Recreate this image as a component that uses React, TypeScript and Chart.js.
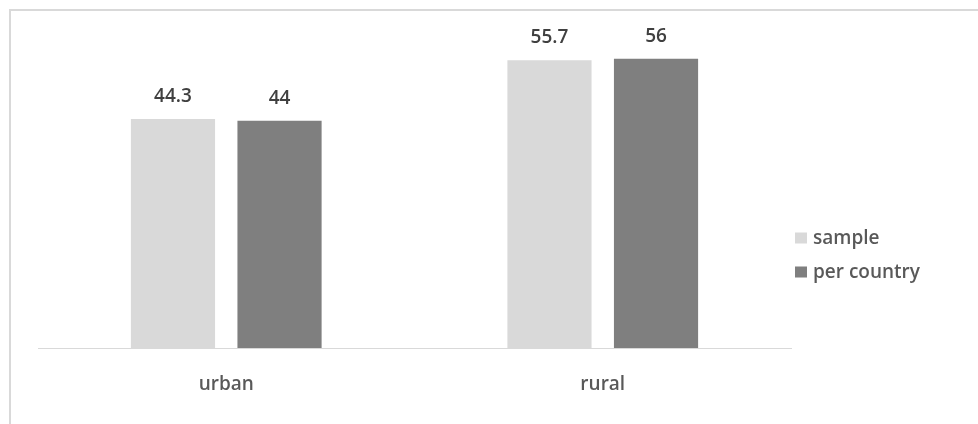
import React, { useEffect, useRef } from "react";
import { Chart, registerables } from "chart.js";

Chart.register(...registerables);

const categories = ["urban", "rural"];
const seriesNames = ["sample", "per country"];
const sampleValues = [44.3, 55.7];
const perCountryValues = [44, 56];
const seriesColors = ["#d9d9d9", "#7f7f7f"];

const FONT = "'Open Sans', 'DejaVu Sans', sans-serif";

const valueLabels = {
  id: "valueLabels",
  afterDatasetsDraw(chart: any) {
    const ctx = chart.ctx;
    ctx.save();
    ctx.font = `600 19px ${FONT}`;
    ctx.fillStyle = "#404040";
    ctx.textAlign = "center";
    ctx.textBaseline = "alphabetic";
    chart.data.datasets.forEach((ds: any, i: number) => {
      const meta = chart.getDatasetMeta(i);
      meta.data.forEach((bar: any, j: number) => {
        ctx.fillText(String(ds.data[j]), bar.x, bar.y - 17);
      });
    });
    ctx.restore();
  },
};

const sideLegend = {
  id: "sideLegend",
  afterDraw(chart: any) {
    const ctx = chart.ctx;
    ctx.save();
    ctx.font = `600 19px ${FONT}`;
    ctx.textAlign = "left";
    ctx.textBaseline = "middle";
    const x0 = chart.chartArea.right + 4;
    const yStart = 238;
    const step = 34;
    chart.data.datasets.forEach((ds: any, i: number) => {
      const y = yStart + i * step;
      ctx.fillStyle = ds.backgroundColor;
      ctx.fillRect(x0, y - 5.5, 12, 11);
      ctx.fillStyle = "#595959";
      ctx.fillText(ds.label, x0 + 18, y + 1);
    });
    ctx.restore();
  },
};

export default function App() {
  const ref = useRef<HTMLCanvasElement | null>(null);
  useEffect(() => {
    if (!ref.current) return;
    const chart = new Chart(ref.current, {
      type: "bar",
      data: {
        labels: categories,
        datasets: [
          { label: seriesNames[0], data: sampleValues, backgroundColor: seriesColors[0] },
          { label: seriesNames[1], data: perCountryValues, backgroundColor: seriesColors[1] },
        ],
      },
      options: {
        animation: false,
        responsive: false,
        maintainAspectRatio: false,
        layout: { padding: { left: 38, right: 187, top: 38, bottom: 0 } },
        plugins: { legend: { display: false }, tooltip: { enabled: false } },
        datasets: { bar: { categoryPercentage: 0.566, barPercentage: 0.79 } },
        scales: {
          x: {
            grid: { display: false, drawTicks: false },
            border: { display: true, color: "#d9d9d9", width: 1 },
            ticks: { color: "#595959", font: { family: FONT, size: 19, weight: "600" }, padding: 25 },
            afterFit: (s: any) => {
              s.height = 76;
            },
          },
          y: { display: false, min: 0, max: 60 },
        },
      } as any,
      plugins: [valueLabels, sideLegend],
    });
    return () => chart.destroy();
  }, []);
  return (
    <div style={{ position: "absolute", left: 0, top: 0, width: 978, height: 424, overflow: "hidden", background: "#fff" }}>
      <div style={{ position: "absolute", left: 9, top: 9, width: 1200, height: 800, borderLeft: "2px solid #d9d9d9", borderTop: "2px solid #d9d9d9" }} />
      <canvas ref={ref} width={978} height={424} style={{ position: "absolute", left: 0, top: 0 }} />
    </div>
  );
}
